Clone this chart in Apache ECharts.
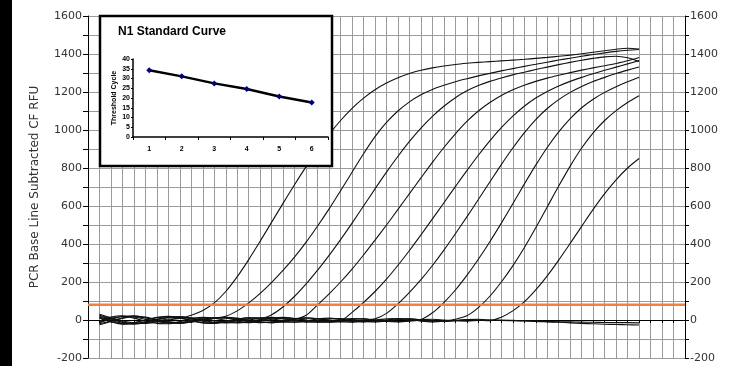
<!DOCTYPE html>
<html><head><meta charset="utf-8">
<script src="https://cdn.jsdelivr.net/npm/echarts@6/dist/echarts.min.js"></script>
<style>html,body{margin:0;padding:0;background:#fff;}#c{width:744px;height:366px;}</style>
</head><body><div id="c"></div>
<script>
const cycles = [1,2,3,4,5,6,7,8,9,10,11,12,13,14,15,16,17,18,19,20,21,22,23,24,25,26,27,28,29,30,31,32,33,34,35,36,37,38,39,40,41,42,43,44,45,46,47,48];
const c1 = [25,8,-12,-20,-15,-4,5,10,25,50,90,150,228,318,415,515,615,713,807,895,977,1050,1114,1168,1212,1247,1275,1297,1314,1327,1337,1345,1351,1356,1360,1364,1368,1372,1377,1382,1388,1394,1401,1409,1417,1425,1430,1426];
const c2 = [-15,5,18,22,12,-2,-14,-18,-10,2,10,20,48,90,140,198,262,332,410,495,585,680,778,875,965,1040,1100,1148,1185,1213,1235,1254,1270,1285,1298,1311,1323,1335,1346,1357,1368,1378,1388,1397,1406,1414,1420,1424];
const c3 = [10,-8,-20,-14,0,12,18,10,-4,-15,-18,-8,4,12,8,28,70,125,190,262,340,423,510,600,690,778,862,940,1010,1072,1125,1170,1206,1234,1256,1274,1290,1304,1318,1331,1344,1356,1367,1377,1385,1388,1380,1360];
const c4 = [-20,-5,10,20,15,2,-10,-16,-12,-2,8,14,10,0,-10,-14,-8,2,25,80,138,200,268,342,420,500,582,665,748,830,908,980,1045,1100,1145,1182,1212,1236,1256,1273,1288,1302,1315,1327,1338,1350,1364,1382];
const c5 = [30,12,-5,-15,-18,-10,0,8,12,6,-4,-12,-15,-8,2,10,14,8,-2,-10,-12,-5,40,92,150,215,288,366,448,532,617,702,786,867,943,1012,1073,1125,1168,1203,1232,1256,1277,1296,1314,1331,1348,1365];
const c6 = [-10,8,20,16,4,-8,-16,-14,-4,6,12,10,2,-8,-14,-10,0,8,12,6,-4,-10,-8,0,6,35,85,145,212,287,368,454,543,634,726,818,905,985,1055,1113,1160,1198,1229,1255,1277,1297,1315,1332];
const c7 = [15,-2,-18,-22,-12,2,14,18,10,-2,-12,-16,-10,0,10,14,8,-2,-10,-12,-6,2,8,6,-2,-8,-10,-6,2,38,92,158,235,320,412,510,612,715,815,908,990,1060,1117,1162,1198,1228,1254,1278];
const c8 = [-25,-8,10,18,12,0,-10,-14,-8,2,10,12,6,-4,-12,-14,-6,4,10,8,0,-8,-12,-8,0,6,8,2,-6,-10,-6,4,22,65,125,200,285,380,485,595,705,810,905,985,1050,1102,1145,1180];
const c9 = [20,5,-12,-18,-10,4,14,16,6,-6,-14,-12,-2,8,12,6,-4,-10,-10,-2,6,8,2,-6,-10,-6,2,6,2,-4,-6,-2,2,0,-4,15,48,95,158,232,315,403,493,582,665,738,800,850];
const ntc1 = [-5,15,22,10,-6,-18,-20,-8,6,14,10,-2,-12,-14,-6,4,10,8,0,-8,-10,-4,4,6,0,-6,-8,-4,2,4,0,-4,-6,-2,0,0,-2,-4,-8,-10,-12,-15,-18,-20,-22,-24,-25,-26];
const ntc2 = [10,-10,-22,-15,0,14,20,12,-2,-14,-16,-6,6,12,8,-4,-12,-12,-4,6,10,4,-4,-10,-8,0,6,6,0,-6,-8,-4,2,4,0,-3,-4,-5,-6,-8,-9,-10,-11,-12,-13,-14,-14,-15];
const thresholdRFU = 80;
const xRange = [0, 52];
const yRange = [-200, 1600];
const stdDilution = ['1','2','3','4','5','6'];
const stdCt = [34.2, 31.1, 27.5, 24.6, 20.8, 17.7];
const yTitle = 'PCR Base Line Subtracted CF RFU';
const insetTitle = 'N1 Standard Curve';
const insetYTitle = 'Threshold Cycle';

const curves = [ntc1, ntc2, c9, c8, c7, c6, c5, c4, c3, c2, c1];
const chart = echarts.init(document.getElementById('c'), null, {renderer: 'canvas'});
const labelFont = {color: '#333', fontFamily: 'DejaVu Sans', fontSize: 11};
const fmt = v => (v % 200 === 0 ? String(v) : '');
const series = curves.map(arr => ({
  type: 'line', xAxisIndex: 0, yAxisIndex: 0, silent: true, showSymbol: false,
  smooth: 0.3, data: cycles.map((c, i) => [c, arr[i]]),
  lineStyle: {color: '#111', width: 1.1}, z: 3
}));
series.push({
  type: 'line', xAxisIndex: 0, yAxisIndex: 0, silent: true, showSymbol: false,
  data: [[xRange[0], thresholdRFU], [xRange[1], thresholdRFU]],
  lineStyle: {color: '#f0803c', width: 2.5}, z: 4
});
series.push({
  type: 'line', xAxisIndex: 1, yAxisIndex: 2, silent: true,
  data: stdCt, symbol: 'diamond', symbolSize: 6,
  itemStyle: {color: '#000080'}, lineStyle: {color: '#000', width: 2.5}, z: 120
});

chart.setOption({
  animation: false,
  grid: [
    {left: 88, top: 16, width: 597, height: 342},
    {left: 133, top: 59, width: 195, height: 78, z: 110}
  ],
  xAxis: [
    {type: 'value', gridIndex: 0, min: xRange[0], max: xRange[1], interval: 1,
     axisLine: {lineStyle: {color: '#000', width: 1}},
     axisTick: {show: true, length: 3, lineStyle: {color: '#000'}},
     axisLabel: {show: false},
     splitLine: {show: true, lineStyle: {color: '#9a9a9a', width: 1}}},
    {type: 'category', gridIndex: 1, data: stdDilution, boundaryGap: true, z: 115,
     axisLine: {lineStyle: {color: '#000', width: 1.5}},
     axisTick: {show: true, length: 3, lineStyle: {color: '#000'}},
     axisLabel: {color: '#000', fontFamily: 'Liberation Sans', fontWeight: 'bold', fontSize: 7, margin: 9},
     splitLine: {show: false}}
  ],
  yAxis: [
    {type: 'value', gridIndex: 0, min: yRange[0], max: yRange[1], interval: 100,
     name: yTitle, nameLocation: 'middle', nameGap: 47,
     nameTextStyle: {color: '#333', fontFamily: 'DejaVu Sans', fontSize: 12},
     axisLine: {show: true, lineStyle: {color: '#000', width: 1}},
     axisTick: {show: true, length: 5, lineStyle: {color: '#000'}},
     axisLabel: Object.assign({formatter: fmt, margin: 6}, labelFont),
     splitLine: {show: true, lineStyle: {color: '#9a9a9a', width: 1}}},
    {type: 'value', gridIndex: 0, position: 'right', min: yRange[0], max: yRange[1], interval: 100,
     axisLine: {show: true, lineStyle: {color: '#000', width: 1}},
     axisTick: {show: true, length: 4, lineStyle: {color: '#000'}},
     axisLabel: Object.assign({formatter: fmt, margin: 5}, labelFont),
     splitLine: {show: false}},
    {type: 'value', gridIndex: 1, min: 0, max: 40, interval: 5, z: 115,
     name: insetYTitle, nameLocation: 'middle', nameGap: 15,
     nameTextStyle: {color: '#000', fontFamily: 'Liberation Sans', fontWeight: 'bold', fontSize: 7},
     axisLine: {show: true, lineStyle: {color: '#000', width: 1.5}},
     axisTick: {show: true, length: 2, lineStyle: {color: '#000'}},
     axisLabel: {color: '#000', fontFamily: 'Liberation Sans', fontWeight: 'bold', fontSize: 7, margin: 3},
     splitLine: {show: false}}
  ],
  graphic: [
    {type: 'rect', shape: {x: 0, y: 0, width: 12, height: 366}, style: {fill: '#000'}, z: 200, silent: true},
    {type: 'rect', shape: {x: 100, y: 16, width: 232, height: 150},
     style: {fill: '#fff', stroke: '#000', lineWidth: 2.5}, z: 100, silent: true},
    {type: 'text', x: 118, y: 32, z: 120, silent: true,
     style: {text: insetTitle, fill: '#000', font: 'bold 12px "Liberation Sans"', verticalAlign: 'middle'}}
  ],
  series: series
});
</script></body></html>
